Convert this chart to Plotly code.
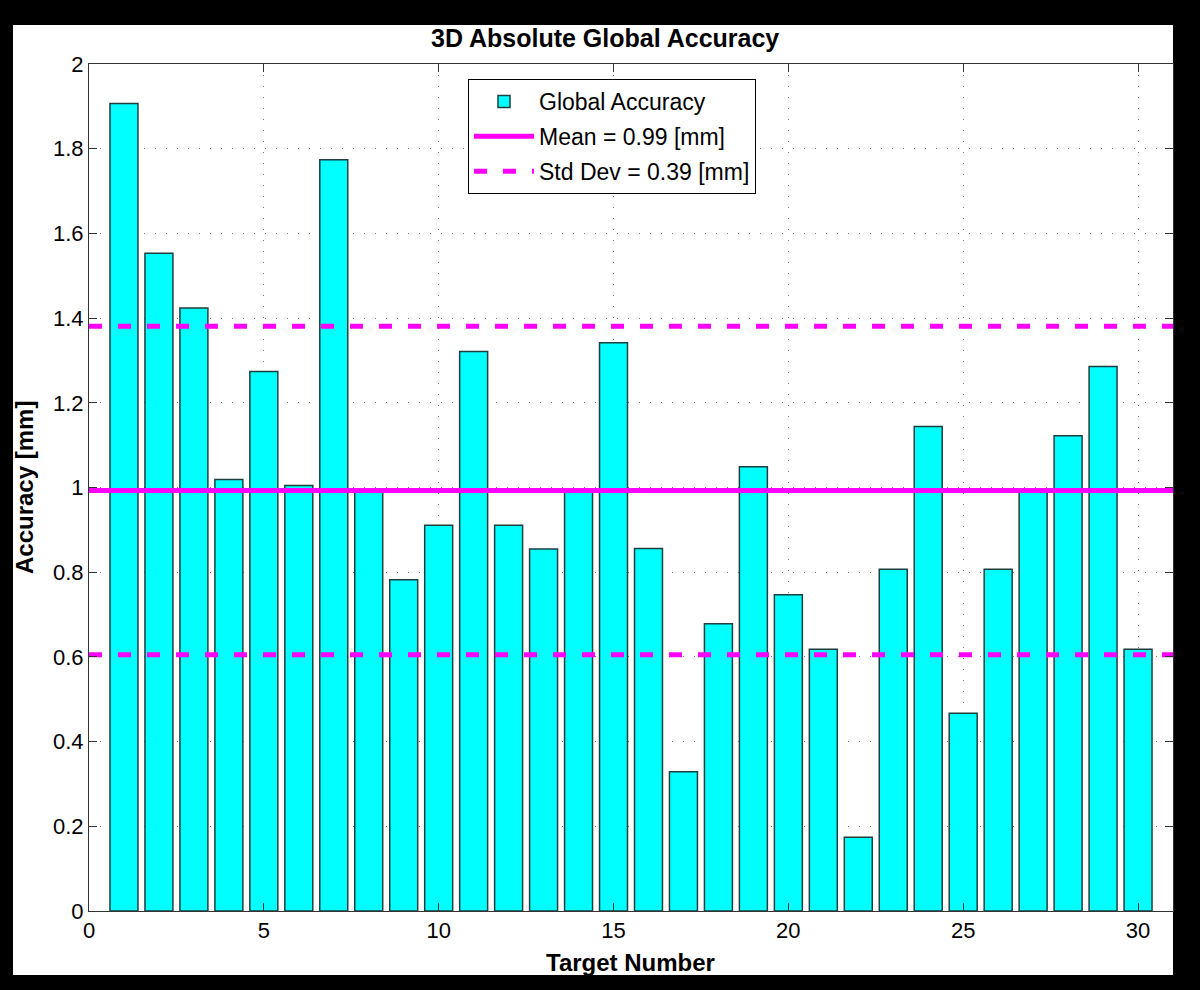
import plotly.graph_objects as go

targets = list(range(1, 31))
accuracy = [1.907, 1.553, 1.424, 1.019, 1.274, 1.005, 1.774, 0.995, 0.782, 0.911,
            1.321, 0.911, 0.855, 0.995, 1.342, 0.856, 0.329, 0.678, 1.049, 0.747,
            0.618, 0.174, 0.807, 1.144, 0.467, 0.807, 0.995, 1.122, 1.286, 0.618]
mean_val = 0.993
std_val = 0.388
x_range = [0, 31]
y_ticks = [0, 0.2, 0.4, 0.6, 0.8, 1.0, 1.2, 1.4, 1.6, 1.8, 2.0]
y_ticktext = ["0", "0.2", "0.4", "0.6", "0.8", "1", "1.2", "1.4", "1.6", "1.8", "2"]
x_ticks = [0, 5, 10, 15, 20, 25, 30]

FONT = "Liberation Sans, Arial, sans-serif"
MAG = "#ff00ff"

fig = go.Figure()
fig.add_trace(go.Bar(
    x=targets, y=accuracy, width=0.8, name="Global Accuracy", legendgroup="bar",
    marker=dict(color="#00ffff", line=dict(color="#1f3f3f", width=1.5)),
))
fig.add_trace(go.Scatter(
    x=x_range, y=[mean_val, mean_val], mode="lines", legendgroup="mean",
    name=f"Mean = {mean_val:.2f} [mm]",
    line=dict(color=MAG, width=5),
))
fig.add_trace(go.Scatter(
    x=x_range, y=[mean_val + std_val] * 2, mode="lines",
    name=f"Std Dev = {std_val:.2f} [mm]", legendgroup="std",
    line=dict(color=MAG, width=5, dash="13px,16px"),
))
fig.add_trace(go.Scatter(
    x=x_range, y=[mean_val - std_val] * 2, mode="lines",
    name=f"Std Dev = {std_val:.2f} [mm]", legendgroup="std", showlegend=False,
    line=dict(color=MAG, width=5, dash="13px,16px"),
))

L, R, T, B = 89, 27, 64, 79
W, H = 1200, 990
pw, ph = W - L - R, H - T - B

def px(xp):
    return (xp - L) / pw

def py(yp):
    return (H - B - yp) / ph

axis_common = dict(
    showline=True, linecolor="#333333", linewidth=1, mirror="ticks",
    ticks="inside", ticklen=8, tickcolor="#333333",
    showgrid=True, gridcolor="#777777", gridwidth=1, griddash="1px,10px",
    zeroline=False,
    tickfont=dict(family=FONT, size=22, color="black"),
)

fig.update_layout(
    width=W, height=H,
    margin=dict(l=L, r=R, t=T, b=B, pad=0),
    paper_bgcolor="black", plot_bgcolor="white",
    font=dict(family=FONT, color="black"),
    showlegend=True,
    legend=dict(
        x=px(468), y=py(79), xanchor="left", yanchor="top",
        bgcolor="white", bordercolor="black", borderwidth=1,
        font=dict(family=FONT, size=23, color="black"),
        itemwidth=60, traceorder="grouped", tracegroupgap=2,
    ),
    xaxis=dict(range=x_range, tickvals=x_ticks, **axis_common),
    yaxis=dict(range=[0, 2], tickvals=y_ticks, ticktext=y_ticktext, **axis_common),
    bargap=0.2,
    shapes=[dict(type="rect", xref="paper", yref="paper",
                 x0=px(13), x1=px(1173), y0=py(975), y1=py(25),
                 fillcolor="white", line=dict(width=0), layer="below")],
    annotations=[
        dict(text="<b>3D Absolute Global Accuracy</b>", xref="paper", yref="paper",
             x=px(605), y=py(38), showarrow=False, xanchor="center", yanchor="middle",
             font=dict(family=FONT, size=25, color="black")),
        dict(text="<b>Target Number</b>", xref="paper", yref="paper",
             x=px(630), y=py(962), showarrow=False, xanchor="center", yanchor="middle",
             font=dict(family=FONT, size=24, color="black")),
        dict(text="<b>Accuracy [mm]</b>", xref="paper", yref="paper",
             x=px(24), y=py(488), showarrow=False, xanchor="center", yanchor="middle",
             textangle=-90, font=dict(family=FONT, size=24, color="black")),
    ],
)

fig.write_html(
    "out.html",
    config={"displayModeBar": False},
    post_script="document.body.style.margin='0px';document.body.style.background='black';",
)
